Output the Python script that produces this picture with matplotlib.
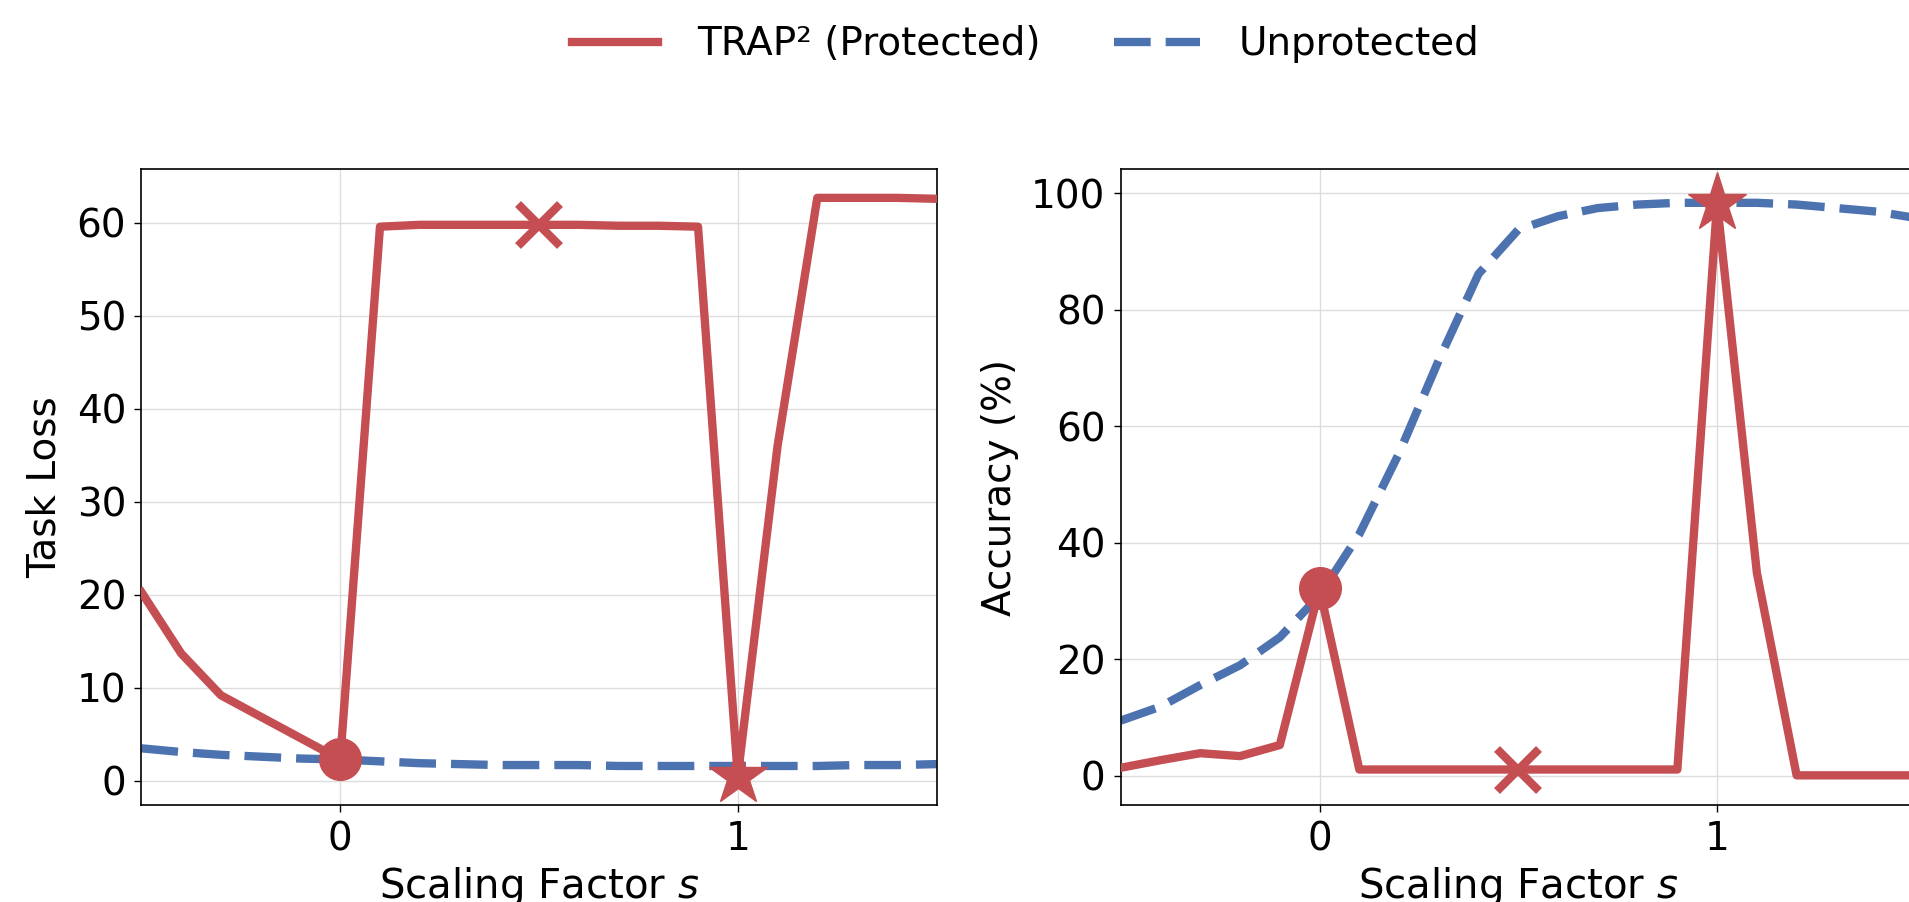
import matplotlib
matplotlib.use('Agg')
import matplotlib.pyplot as plt
from matplotlib.lines import Line2D

# scaling factor grid
s = [-0.5, -0.4, -0.3, -0.2, -0.1, 0.0, 0.1, 0.2, 0.3, 0.4, 0.5,
     0.6, 0.7, 0.8, 0.9, 1.0, 1.1, 1.2, 1.3, 1.4, 1.5]

# task loss
loss_trap = [20.3, 13.7, 9.2, 6.9, 4.6, 2.3, 59.6, 59.8, 59.8, 59.8, 59.8,
             59.8, 59.7, 59.7, 59.6, 0.5, 36.0, 62.7, 62.7, 62.7, 62.6]
loss_plain = [3.5, 3.1, 2.8, 2.6, 2.4, 2.3, 2.1, 1.9, 1.8, 1.7, 1.7,
              1.7, 1.6, 1.6, 1.6, 1.6, 1.6, 1.6, 1.7, 1.7, 1.8]

# accuracy (%)
acc_trap = [1.4, 2.7, 3.9, 3.4, 5.3, 32.2, 1.1, 1.1, 1.1, 1.1, 1.1,
            1.1, 1.1, 1.1, 1.1, 98.4, 34.9, 0.1, 0.1, 0.1, 0.1]
acc_plain = [9.5, 11.9, 15.6, 19.0, 23.8, 31.0, 41.5, 55.4, 71.4, 86.2, 93.8,
             96.1, 97.5, 98.1, 98.4, 98.4, 98.4, 98.1, 97.5, 96.9, 95.8]

# highlighted points: s = 0 (circle), 0.5 (cross), 1 (star)
mark_s = [0.0, 0.5, 1.0]

labels = ['TRAP² (Protected)', 'Unprotected']
red = '#C44E52'
blue = '#4C72B0'
fs = 28
dash = (0, (4.4, 1.8))

plt.rcParams['font.family'] = 'DejaVu Sans'
plt.rcParams['mathtext.fontset'] = 'dejavusans'

fig = plt.figure(figsize=(19.09, 9.02), dpi=100)
ax1 = fig.add_axes([0.0741, 0.1075, 0.4165, 0.7051])
ax2 = fig.add_axes([0.5871, 0.1075, 0.4165, 0.7051])


def draw(ax, y_trap, y_plain, ylabel, ylim, yticks):
    ax.plot(s, y_plain, color=blue, lw=6, ls=dash, zorder=2)
    ax.plot(s, y_trap, color=red, lw=6, zorder=3, solid_joinstyle='round')
    yv = [y_trap[s.index(v)] for v in mark_s]
    ax.plot(mark_s[0], yv[0], 'o', color=red, ms=30, zorder=4)
    ax.plot(mark_s[1], yv[1], 'x', color=red, ms=30, mew=6, zorder=4)
    ax.plot(mark_s[2], yv[2], '*', color=red, ms=44, zorder=4)
    ax.set_xlim(-0.5, 1.5)
    ax.set_ylim(*ylim)
    ax.set_xticks([0, 1])
    ax.set_yticks(yticks)
    ax.grid(True, color='#dddddd', lw=1)
    ax.set_axisbelow(True)
    ax.tick_params(labelsize=fs, length=5, width=1, pad=6)
    for sp in ax.spines.values():
        sp.set_linewidth(1.2)
    ax.set_xlabel('Scaling Factor $s$', fontsize=fs + 1, labelpad=5)
    ax.set_ylabel(ylabel, fontsize=fs, labelpad=9)


draw(ax1, loss_trap, loss_plain, 'Task Loss', (-2.6, 65.8), range(0, 61, 10))
draw(ax2, acc_trap, acc_plain, 'Accuracy (%)', (-5.0, 104.2), range(0, 101, 20))

handles = [Line2D([], [], color=red, lw=6),
           Line2D([], [], color=blue, lw=6, ls=dash)]
fig.legend(handles, labels, loc='center', bbox_to_anchor=(0.5373, 0.951),
           ncol=2, frameon=False, fontsize=fs, handletextpad=1.0,
           handlelength=2.2, columnspacing=1.9)

fig.savefig('out.png', dpi=100)
